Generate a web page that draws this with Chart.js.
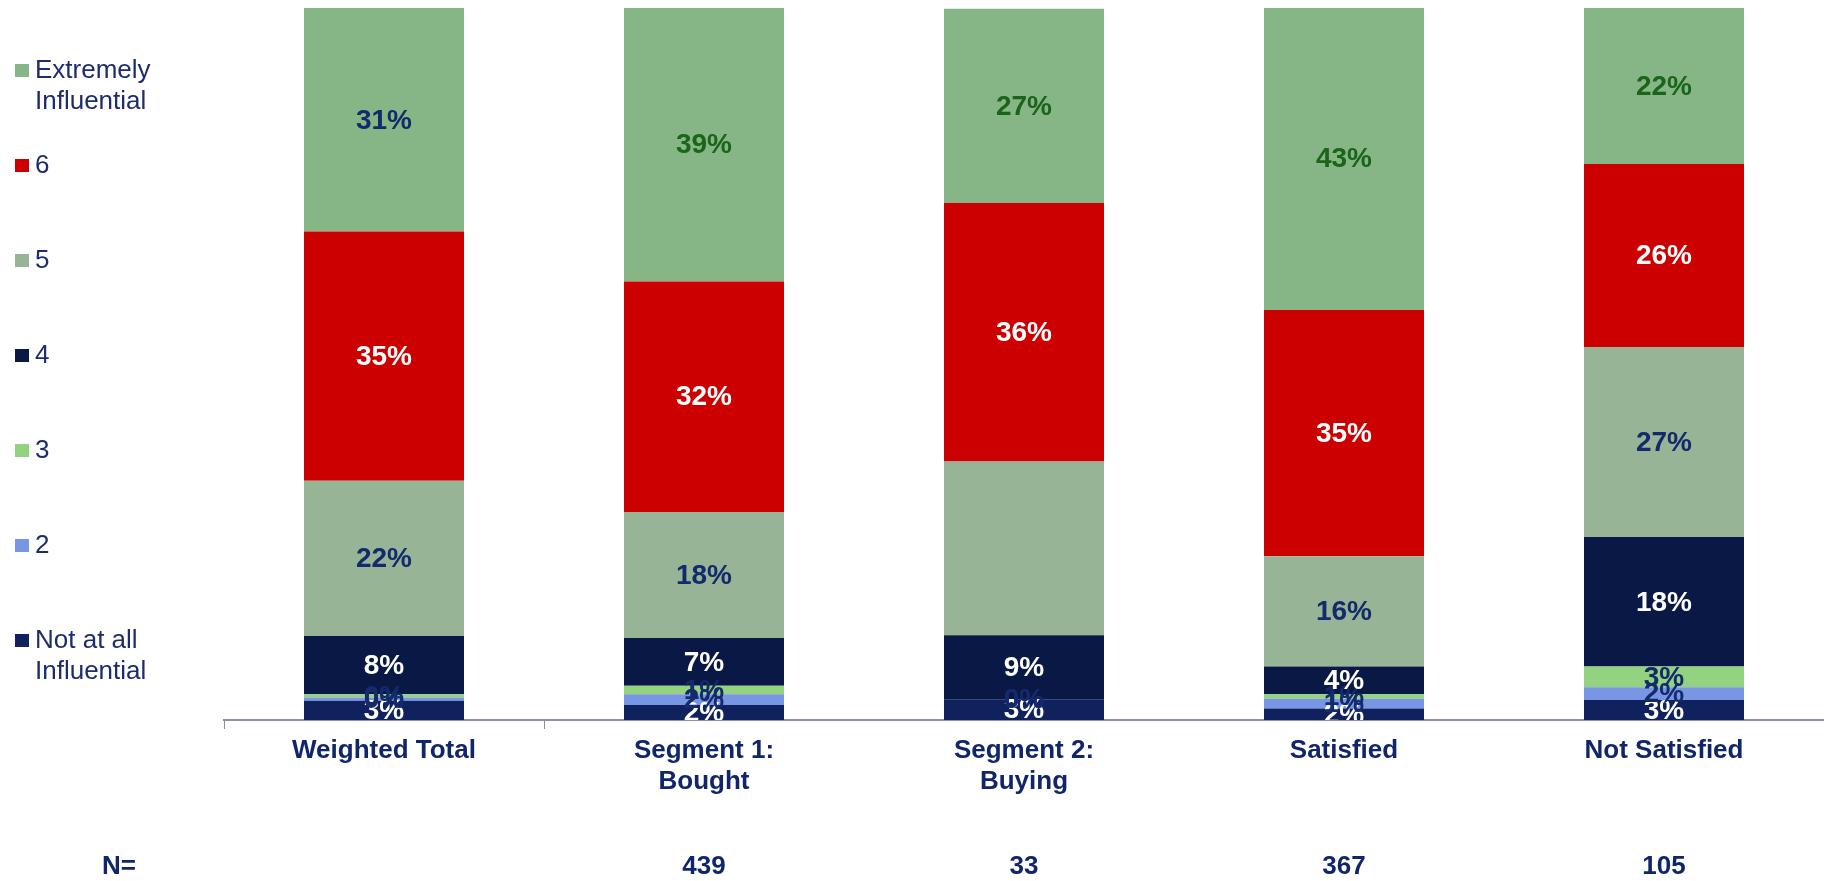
<!DOCTYPE html>
<html><head><meta charset="utf-8">
<script src="https://cdn.jsdelivr.net/npm/chart.js@4.4.1/dist/chart.umd.min.js"></script>
<style>html,body{margin:0;padding:0;background:#fff;overflow:hidden}#wrap{width:1824px;height:881px;position:relative}</style>
</head><body><div id="wrap"><canvas id="c" width="1824" height="881"></canvas></div>
<script>
// ---- data ----
const categories = ['Weighted Total', ['Segment 1:', 'Bought'], ['Segment 2:', 'Buying'], 'Satisfied', 'Not Satisfied'];
const nLabel = 'N=';
const nValues = ['', '439', '33', '367', '105'];
const seriesNames = ['Not at all Influential', '2', '3', '4', '5', '6', 'Extremely Influential'];
const legendLines = [['Not at all', 'Influential'], ['2'], ['3'], ['4'], ['5'], ['6'], ['Extremely', 'Influential']];
const notAtAll  = [2.7, 2.1, 2.9, 1.6, 2.8];
const two       = [0.45, 1.5, 0, 1.4, 1.8];
const three     = [0.45, 1.2, 0, 0.6, 2.9];
const four      = [8.2, 6.7, 9.0, 3.9, 18.2];
const five      = [21.8, 17.7, 24.4, 15.5, 26.7];
const six       = [35.0, 32.4, 36.3, 34.6, 25.7];
const extremely = [31.4, 38.5, 27.3, 42.5, 21.9];
// labels not shown in the original: [series index, category index]
const hiddenLabels = [[4, 2]];

// ---- styles ----
const FONT = '"Liberation Sans", Arial, sans-serif';
const NAVY = '#132a6c';
const colors = ['#10225e', '#7896e4', '#93d37f', '#0a1846', '#98b497', '#cc0000', '#86b686'];
const labelColors = [
  ['#ffffff','#ffffff','#ffffff','#ffffff','#ffffff'],
  [NAVY,NAVY,NAVY,NAVY,NAVY],
  [NAVY,NAVY,NAVY,NAVY,NAVY],
  ['#ffffff','#ffffff','#ffffff','#ffffff','#ffffff'],
  [NAVY,NAVY,NAVY,NAVY,NAVY],
  ['#ffffff','#ffffff','#ffffff','#ffffff','#ffffff'],
  [NAVY,'#1c641c','#1c641c','#1c641c','#1c641c']
];
const seriesData = [notAtAll, two, three, four, five, six, extremely];

const labelPlugin = {
  id: 'segLabels',
  afterDatasetsDraw(chart) {
    const ctx = chart.ctx, a = chart.chartArea;
    ctx.save();
    ctx.beginPath(); ctx.rect(a.left, a.top, a.right - a.left, a.bottom - a.top); ctx.clip();
    ctx.font = 'bold 28px ' + FONT;
    ctx.textAlign = 'center'; ctx.textBaseline = 'middle';
    chart.data.datasets.forEach((ds, di) => {
      chart.getDatasetMeta(di).data.forEach((bar, i) => {
        if (hiddenLabels.some(h => h[0] === di && h[1] === i)) return;
        const p = bar.getCenterPoint();
        ctx.fillStyle = labelColors[di][i];
        ctx.fillText(Math.round(ds.data[i]) + '%', p.x, p.y + 1);
      });
    });
    ctx.restore();
  }
};

const extrasPlugin = {
  id: 'extras',
  afterDraw(chart) {
    const ctx = chart.ctx;
    ctx.save();
    // legend (top to bottom = reverse of stacking)
    ctx.font = '26px ' + FONT;
    ctx.textBaseline = 'middle'; ctx.textAlign = 'left';
    const order = chart.data.datasets.map((d, i) => i).reverse();
    order.forEach((di, k) => {
      const y0 = 71 + k * 95;
      ctx.fillStyle = chart.data.datasets[di].backgroundColor;
      ctx.fillRect(15, y0 - 7, 14, 13);
      ctx.fillStyle = '#1c2c6c';
      legendLines[di].forEach((line, j) => ctx.fillText(line, 35, y0 + j * 31));
    });
    // N row
    ctx.font = 'bold 26px ' + FONT;
    ctx.fillStyle = '#10256a';
    ctx.fillText(nLabel, 102, 867);
    ctx.textAlign = 'center';
    const xs = chart.scales.x;
    nValues.forEach((v, i) => { if (v) ctx.fillText(v, xs.getPixelForValue(i), 867); });
    ctx.restore();
  }
};

new Chart(document.getElementById('c'), {
  type: 'bar',
  data: {
    labels: categories,
    datasets: seriesData.map((d, i) => ({
      label: seriesNames[i], data: d, backgroundColor: colors[i],
      borderWidth: 0, barPercentage: 0.5, categoryPercentage: 1.0
    }))
  },
  options: {
    responsive: false, animation: false, devicePixelRatio: 1,
    layout: { padding: { left: 224, top: 8, right: 0, bottom: 0 } },
    plugins: { legend: { display: false }, tooltip: { enabled: false } },
    scales: {
      x: {
        stacked: true, offset: true,
        border: { display: true, color: '#8d90a2', width: 2 },
        grid: {
          display: true, drawOnChartArea: false, drawTicks: true, tickLength: 9, offset: true, lineWidth: 1,
          color: c => (c.index <= 1 ? '#8d90a2' : 'rgba(0,0,0,0)')
        },
        ticks: { color: '#10256a', font: { family: FONT, size: 26, weight: 'bold', lineHeight: 1.2 }, padding: 6, maxRotation: 0, autoSkip: false },
        afterFit(s) { s.height = 161; }
      },
      y: { stacked: true, display: false, min: 0, max: 100 }
    }
  },
  plugins: [labelPlugin, extrasPlugin]
});
</script></body></html>
